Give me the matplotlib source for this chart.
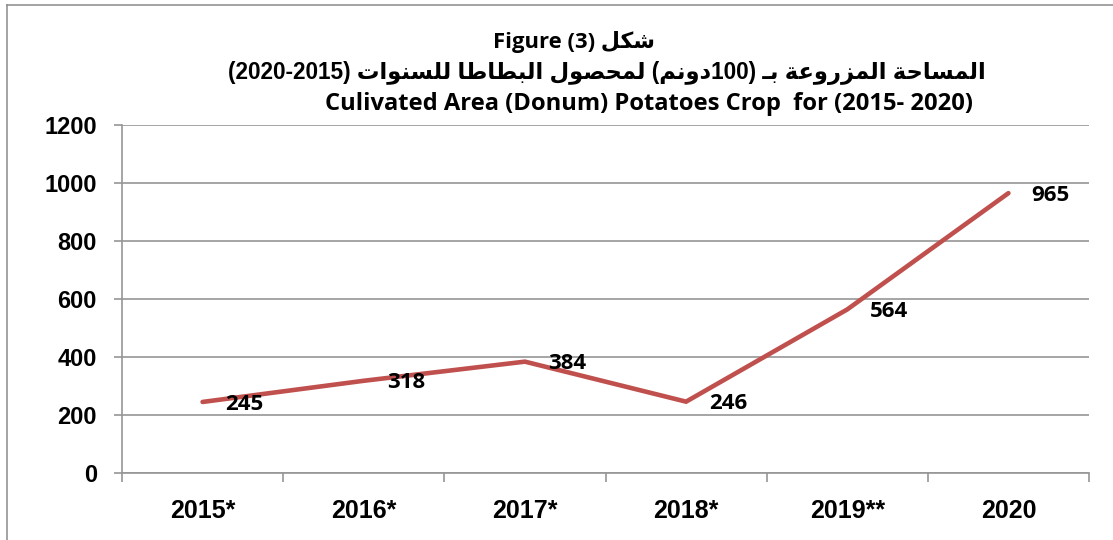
import matplotlib
matplotlib.use("Agg")
import matplotlib.pyplot as plt
from matplotlib.lines import Line2D
from matplotlib.ticker import FixedLocator, NullFormatter

# ---------------- data ----------------
categories = ["2015*", "2016*", "2017*", "2018*", "2019**", "2020"]
values = [245, 318, 384, 246, 564, 965]
y_ticks = [0, 200, 400, 600, 800, 1000, 1200]

title_en_1 = "Figure (3) "
title_ar_1 = "شكل"
title_years_ar = "(2020-2015)"
title_ar_words = ["المساحة", "المزروعة", "بـ"]
title_ar_unit = "دونم"
title_ar_num = "100"
title_ar_words2 = ["لمحصول", "البطاطا", "للسنوات"]
title_en_3 = "Culivated Area (Donum) Potatoes Crop  for (2015- 2020)"

# ------------- minimal Arabic shaping (presentation forms, visual order) -------------
FORMS = {
    'ا': (0xFE8D, 0xFE8E, None, None),
    'ب': (0xFE8F, 0xFE90, 0xFE91, 0xFE92),
    'ة': (0xFE93, 0xFE94, None, None),
    'ت': (0xFE95, 0xFE96, 0xFE97, 0xFE98),
    'ح': (0xFEA1, 0xFEA2, 0xFEA3, 0xFEA4),
    'د': (0xFEA9, 0xFEAA, None, None),
    'ر': (0xFEAD, 0xFEAE, None, None),
    'ز': (0xFEAF, 0xFEB0, None, None),
    'س': (0xFEB1, 0xFEB2, 0xFEB3, 0xFEB4),
    'ش': (0xFEB5, 0xFEB6, 0xFEB7, 0xFEB8),
    'ص': (0xFEB9, 0xFEBA, 0xFEBB, 0xFEBC),
    'ط': (0xFEC1, 0xFEC2, 0xFEC3, 0xFEC4),
    'ع': (0xFEC9, 0xFECA, 0xFECB, 0xFECC),
    'ك': (0xFED9, 0xFEDA, 0xFEDB, 0xFEDC),
    'ل': (0xFEDD, 0xFEDE, 0xFEDF, 0xFEE0),
    'م': (0xFEE1, 0xFEE2, 0xFEE3, 0xFEE4),
    'ن': (0xFEE5, 0xFEE6, 0xFEE7, 0xFEE8),
    'و': (0xFEED, 0xFEEE, None, None),
}
TATWEEL = '\u0640'


def _dual(c):
    return c == TATWEEL or (c in FORMS and FORMS[c][2] is not None)


def _is_ar(c):
    return c == TATWEEL or c in FORMS


def vis(word):
    out = []
    for i, c in enumerate(word):
        if c not in FORMS:
            out.append(c)
            continue
        prev = word[i - 1] if i > 0 else None
        nxt = word[i + 1] if i + 1 < len(word) else None
        jp = prev is not None and _dual(prev)
        jn = _dual(c) and nxt is not None and _is_ar(nxt)
        iso, fin, ini, med = FORMS[c]
        if jp and jn:
            g = med
        elif jp:
            g = fin
        elif jn:
            g = ini
        else:
            g = iso
        out.append(chr(g))
    return ''.join(reversed(out))


line1 = title_en_1 + vis(title_ar_1)
line2 = (title_years_ar + " "
         + " ".join(vis(w) for w in reversed(title_ar_words2))
         + " (" + vis(title_ar_unit) + title_ar_num + ") "
         + " ".join(vis(w) for w in reversed(title_ar_words)))
line3 = title_en_3

# ---------------- figure ----------------
W, H = 1113, 540
fig = plt.figure(figsize=(W / 100, H / 100), dpi=100)
fig.patch.set_facecolor("white")

ax = fig.add_axes([122 / W, 1 - 473 / H, (1089 - 122) / W, (473 - 125) / H])

GRID = "#969696"
LINE = "#C0504D"
FAM = ["Open Sans", "DejaVu Sans"]
FAM_AR = ["Liberation Sans", "DejaVu Sans"]

x = list(range(len(categories)))
ax.plot(x, values, color=LINE, lw=3.3, solid_capstyle="round",
        solid_joinstyle="miter", zorder=3, clip_on=False)

ax.set_xlim(-0.5, len(categories) - 0.5)
ax.set_ylim(y_ticks[0], y_ticks[-1])
ax.set_yticks(y_ticks)
ax.set_yticklabels([str(v) for v in y_ticks])
ax.yaxis.grid(True, color=GRID, lw=1.2, zorder=0)
ax.set_axisbelow(True)

ax.set_xticks(x)
ax.set_xticklabels(categories)
ax.xaxis.set_minor_locator(FixedLocator([i - 0.5 for i in range(len(categories) + 1)]))
ax.xaxis.set_minor_formatter(NullFormatter())
ax.tick_params(axis="x", which="major", length=0, pad=19)
ax.tick_params(axis="x", which="minor", length=6.5, width=1.2, color=GRID, direction="out")
ax.tick_params(axis="y", which="major", length=6, width=1.2, color=GRID, direction="out", pad=12)

for s in ["top", "right"]:
    ax.spines[s].set_visible(False)
for s in ["left", "bottom"]:
    ax.spines[s].set_color(GRID)
    ax.spines[s].set_linewidth(1.2)

for lab in ax.get_yticklabels():
    lab.set_fontfamily("Liberation Sans")
    lab.set_fontweight("bold")
    lab.set_fontsize(17)
for lab in ax.get_xticklabels():
    lab.set_fontfamily("Liberation Sans")
    lab.set_fontweight("bold")
    lab.set_fontsize(18)

for xi, v in zip(x, values):
    ax.annotate(str(v), (xi, v), xytext=(16.5, -1.5), textcoords="offset points",
                ha="left", va="center", fontsize=16, fontweight="bold",
                family=FAM, zorder=4)

# ---------------- title ----------------
specs = [
    (line1, 574, 48, 162, FAM),
    (line2, 607, 79, 725, FAM_AR),
    (line3, 649, 110, 648, FAM),
]
texts = []
for s, cx, by, tw, fam in specs:
    t = fig.text(cx / W, 1 - by / H, s, ha="center", va="baseline",
                 fontsize=16, fontweight="bold", family=fam)
    texts.append(t)

renderer = fig.canvas.get_renderer()
sizes = []
for t, sp in zip(texts, specs):
    bb = t.get_window_extent(renderer)
    sizes.append(16 * sp[3] / bb.width)
# the Arabic fallback font is wider than the original; balance width and height
sizes[1] = 0.5 * (sizes[1] + sizes[2])
for t, fs in zip(texts, sizes):
    t.set_fontsize(fs)

# ---------------- outer frame (left and top edges) ----------------
fig.add_artist(Line2D([7 / W, 7 / W], [0, 1 - 5 / H], color="#8a8a8a", lw=1.1))
fig.add_artist(Line2D([7 / W, 1], [1 - 5 / H, 1 - 5 / H], color="#8a8a8a", lw=1.1))

fig.savefig("out.png", dpi=100, facecolor="white")
